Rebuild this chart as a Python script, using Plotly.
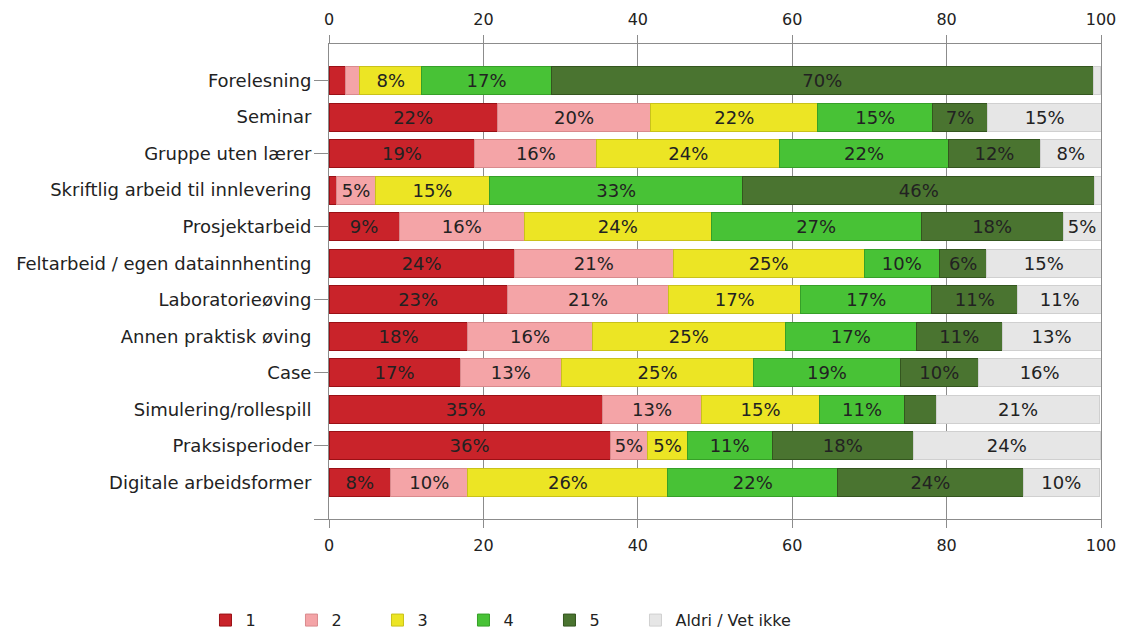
import plotly.graph_objects as go

# Categories (top to bottom) and share per answer
categories = [
    "Forelesning", "Seminar", "Gruppe uten lærer", "Skriftlig arbeid til innlevering",
    "Prosjektarbeid", "Feltarbeid / egen datainnhenting", "Laboratorieøving",
    "Annen praktisk øving", "Case", "Simulering/rollespill", "Praksisperioder",
    "Digitale arbeidsformer",
]
s1 = [2.1, 21.8, 18.9, 1.0, 9.1, 24.0, 23.1, 18.0, 17.0, 35.4, 36.4, 8.0]
s2 = [1.9, 19.9, 15.8, 5.0, 16.2, 20.6, 20.9, 16.1, 13.1, 12.9, 4.9, 10.0]
s3 = [8.0, 21.6, 23.7, 14.8, 24.2, 24.7, 17.1, 25.0, 24.9, 15.2, 5.1, 25.9]
s4 = [16.8, 14.9, 21.8, 32.8, 27.2, 9.8, 17.0, 17.0, 19.0, 11.1, 11.0, 22.0]
s5 = [70.2, 7.1, 12.0, 45.6, 18.4, 6.1, 11.1, 11.1, 10.1, 4.1, 18.3, 24.0]
s6 = [0.9, 14.8, 7.8, 0.9, 4.9, 14.8, 10.9, 12.8, 15.9, 21.1, 24.2, 9.9]

series_names = ["1", "2", "3", "4", "5", "Aldri / Vet ikke"]
series_values = [s1, s2, s3, s4, s5, s6]
colors = ["#c9232a", "#f4a4a7", "#ece524", "#48c236", "#4a7430", "#e6e6e6"]
edges = ["#9a1015", "#d98a8d", "#c9c21a", "#36a028", "#34561f", "#d0d0d0"]

FONT = "DejaVu Sans"
TXT = "#222222"
GRID = "#8c8c8c"

fig = go.Figure()
for i, (name, vals, col, edge) in enumerate(zip(series_names, series_values, colors, edges)):
    labels = [f"{round(v)}%" if round(v) >= 5 else "" for v in vals]
    fig.add_trace(go.Bar(
        y=categories,
        x=vals,
        name=name,
        orientation="h",
        marker=dict(color=col, line=dict(color=edge, width=1)),
        text=labels,
        textposition="inside",
        insidetextanchor="middle",
        textfont=dict(family=FONT, size=18, color=TXT),
        legend="legend2" if i == len(series_names) - 1 else "legend",
        hoverinfo="skip",
    ))

# invisible helper so the top axis and the every-other-row ticks get drawn
fig.add_trace(go.Scatter(
    x=s1, y=list(range(len(categories))), xaxis="x2", yaxis="y2",
    mode="markers", marker=dict(opacity=0), showlegend=False, hoverinfo="skip",
))

# page body has an 8px margin, so the figure is shifted by 8px in the window
fig.update_layout(
    barmode="stack",
    bargap=0.235,
    width=1117,
    height=650,
    paper_bgcolor="white",
    plot_bgcolor="white",
    margin=dict(l=321, r=24, t=36, b=139),
    font=dict(family=FONT, color=TXT),
    uniformtext=dict(minsize=18, mode="show"),
    xaxis=dict(
        range=[0, 100], tickvals=[0, 20, 40, 60, 80, 100], automargin=False,
        showgrid=True, gridcolor=GRID, gridwidth=1, zeroline=False,
        showline=True, linecolor=GRID, linewidth=1,
        ticks="outside", ticklen=8, tickcolor=GRID, ticklabelstandoff=4,
        tickfont=dict(size=16, color=TXT),
    ),
    xaxis2=dict(
        overlaying="x", side="top", range=[0, 100], tickvals=[0, 20, 40, 60, 80, 100],
        automargin=False, showgrid=False, zeroline=False,
        showline=True, linecolor=GRID, linewidth=1,
        ticks="outside", ticklen=8, tickcolor=GRID, ticklabelstandoff=4,
        tickfont=dict(size=16, color=TXT),
    ),
    yaxis=dict(
        categoryorder="array", categoryarray=categories, automargin=False,
        range=[12, -1], showgrid=False, zeroline=False,
        showline=True, mirror=True, linecolor=GRID, linewidth=1,
        ticks="outside", ticklen=13, tickcolor="rgba(0,0,0,0)",
        tickfont=dict(size=18, color=TXT),
    ),
    yaxis2=dict(
        overlaying="y", side="left", range=[12, -1], type="linear", automargin=False,
        tickvals=[0, 2, 4, 6, 8, 10, 12], showticklabels=False,
        showgrid=False, zeroline=False, showline=False,
        ticks="outside", ticklen=14, tickcolor=GRID,
    ),
    legend=dict(
        orientation="h", x=-0.16, xanchor="left", y=-0.213, yanchor="middle",
        font=dict(size=16, color=TXT), entrywidth=41, traceorder="normal",
    ),
    legend2=dict(
        orientation="h", x=0.397, xanchor="left", y=-0.213, yanchor="middle",
        font=dict(size=16, color=TXT),
    ),
)

fig.write_html("out.html")
